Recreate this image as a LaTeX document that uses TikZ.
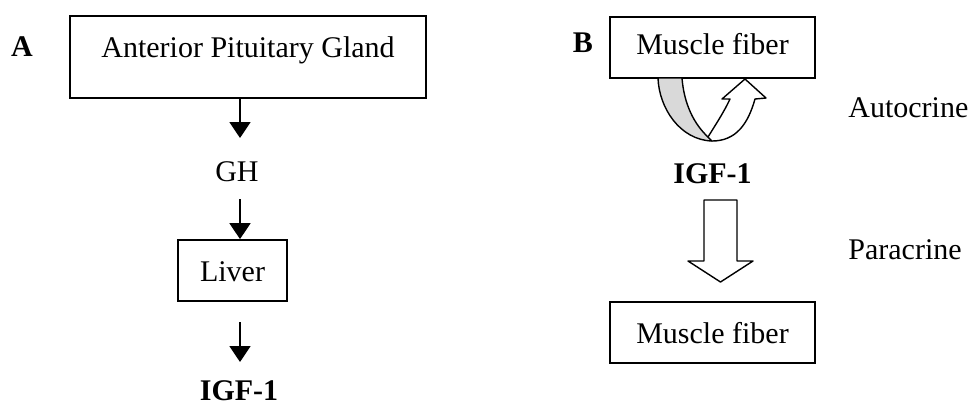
\documentclass[tikz,border=0pt]{standalone}
\usepackage{fontspec}
\setmainfont{Liberation Serif}
\usetikzlibrary{arrows.meta}
\begin{document}
\begin{tikzpicture}[x=0.5pt,y=-0.5pt,
  font=\fontsize{15}{18}\selectfont,
  box/.style={draw, line width=0.9pt, inner sep=0pt, text height=10.5pt, text depth=0pt},
  flow/.style={line width=0.9pt, -{Triangle[width=10.5pt,length=8pt]}},
  tag/.style={font=\fontsize{15}{18}\selectfont\bfseries},
  outline/.style={draw, line width=0.7pt, line join=round}]
\useasboundingbox (0,0) rectangle (976,404);

% ---- Panel A: endocrine route ----
\node[tag] (la) at (22,47) {A};
\node[box, minimum width=178pt, minimum height=41pt, text height=6pt, text depth=6pt] (ap) at (248,57) {Anterior Pituitary Gland};
\node (gh) at (237,172) {GH};
\node[box, minimum width=54.5pt, minimum height=30.5pt] (liver) at (232.5,270.5) {Liver};
\node[tag, inner sep=0pt, text height=10pt, text depth=0pt] (igfa) at (239,390) {IGF-1};

\coordinate (a1e) at (240,138);
\coordinate (a2s) at (240,199);
\coordinate (a3s) at (240,322);
\coordinate (a3e) at (240,362);
\draw[flow] (ap.south -| a1e) -- (a1e);
\draw[flow] (a2s) -- (a2s |- liver.north);
\draw[flow] (a3s) -- (a3e);

% ---- Panel B: autocrine / paracrine ----
\node[tag] (lb) at (583,43) {B};
\node[box, minimum width=102.5pt, minimum height=30.5pt, text depth=4pt] (mf1) at (712.5,47.5) {Muscle fiber};
\node[tag] (igfb) at (712.5,174) {IGF-1};
\node[box, minimum width=102.5pt, minimum height=30.5pt] (mf2) at (712.5,332.5) {Muscle fiber};
\node[anchor=west, inner sep=0pt] (auto) at (848,108) {Autocrine};
\node[anchor=west, inner sep=0pt] (para) at (848,250) {Paracrine};

% autocrine loop: shaded back band, then the open arrow returning to the fibre
\path[outline, fill=gray!30]
  (658,78) .. controls (659,108) and (680,140) .. (712,141)
  -- (708,137) .. controls (694,124) and (684,104) .. (682,78) -- cycle;
\path[outline, fill=white]
  (708,137) .. controls (716,124) and (724,112) .. (730,99)
  -- (722,99) -- (745,79) -- (766,98) -- (755,99)
  .. controls (748,124) and (736,141) .. (712,141) -- cycle;

% paracrine block arrow
\path[outline, fill=white]
  (704,200) -- (737,200) -- (737,261) -- (753,261) -- (720.5,282)
  -- (688,261) -- (704,261) -- cycle;
\end{tikzpicture}
\end{document}
